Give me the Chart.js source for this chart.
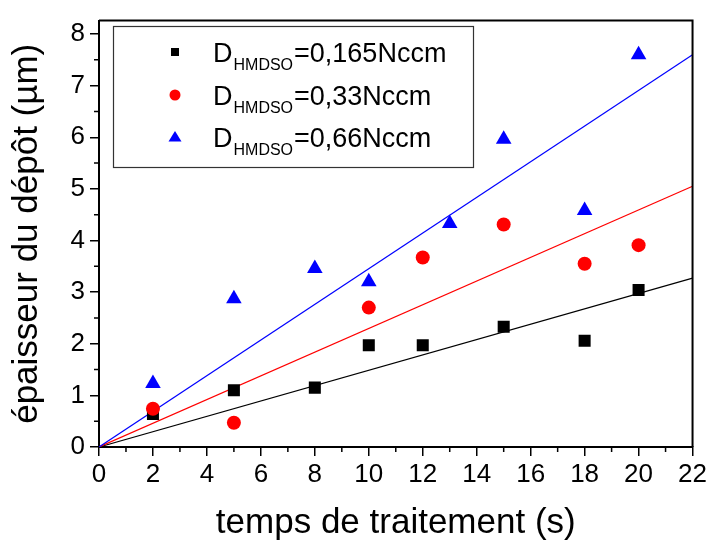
<!DOCTYPE html>
<html>
<head>
<meta charset="utf-8">
<script src="https://cdn.jsdelivr.net/npm/chart.js@4.4.1/dist/chart.umd.min.js"></script>
<style>
  html, body { margin: 0; padding: 0; background: #fff; }
  #wrap { width: 710px; height: 546px; }
</style>
</head>
<body>
<div id="wrap"><canvas id="depot-chart"></canvas></div>
<script>
// values
const timeBlack = [2, 5, 8, 10, 12, 15, 18, 20];
const depotBlack = [0.64, 1.10, 1.15, 1.97, 1.97, 2.33, 2.06, 3.04];
const timeRed = [2, 5, 10, 12, 15, 18, 20];
const depotRed = [0.74, 0.47, 2.70, 3.67, 4.31, 3.55, 3.91];
const timeBlue = [2, 5, 8, 10, 13, 15, 18, 20];
const depotBlue = [1.23, 2.87, 3.46, 3.20, 4.33, 5.96, 4.58, 7.60];

// linear fits through origin, end points at t = 22
const fitTime = [0, 22];
const fitBlack = [0, 3.27];
const fitRed = [0, 5.05];
const fitBlue = [0, 7.60];

const seriesLabels = ["=0,165Nccm", "=0,33Nccm", "=0,66Nccm"];
const xTickValues = [0, 2, 4, 6, 8, 10, 12, 14, 16, 18, 20, 22];
const yTickValues = [0, 1, 2, 3, 4, 5, 6, 7, 8];

const SANS = "'Liberation Sans', Arial, sans-serif";

const toPoints = (xs, ys) => xs.map((x, i) => ({ x: x, y: ys[i] }));

// minor ticks, box frame and the legend with subscripts
const frameAndLegend = {
  id: "frameAndLegend",
  afterDraw(chart) {
    const ctx = chart.ctx;
    const a = chart.chartArea;
    const xs = chart.scales.x;
    const ys = chart.scales.y;
    ctx.save();
    ctx.strokeStyle = "#000";
    ctx.lineWidth = 1.5;
    // minor ticks
    ctx.beginPath();
    for (let v = 1; v < 22; v += 2) {
      const px = xs.getPixelForValue(v);
      ctx.moveTo(px, a.bottom);
      ctx.lineTo(px, a.bottom + 5);
    }
    for (let v = 0.5; v < 8.2; v += 1) {
      const py = ys.getPixelForValue(v);
      ctx.moveTo(a.left, py);
      ctx.lineTo(a.left - 5, py);
    }
    ctx.stroke();
    // top and right sides
    ctx.lineWidth = 2;
    ctx.beginPath();
    ctx.moveTo(a.left, a.top);
    ctx.lineTo(a.right, a.top);
    ctx.lineTo(a.right, a.bottom);
    ctx.stroke();

    // legend
    ctx.lineWidth = 1.2;
    ctx.strokeStyle = "#333";
    ctx.strokeRect(113.5, 26.5, 360, 141);
    const rowsY = [52, 95, 137];
    const colors = ["#000000", "#ff0000", "#0000ff"];
    rowsY.forEach((cy, i) => {
      ctx.fillStyle = colors[i];
      ctx.beginPath();
      if (i === 0) {
        ctx.rect(171, cy - 4, 8, 8);
      } else if (i === 1) {
        ctx.arc(175, cy, 5.5, 0, Math.PI * 2);
      } else {
        ctx.moveTo(175, cy - 6);
        ctx.lineTo(181.5, cy + 4.5);
        ctx.lineTo(168.5, cy + 4.5);
        ctx.closePath();
      }
      ctx.fill();

      const base = cy + 10;
      ctx.fillStyle = "#000";
      ctx.textBaseline = "alphabetic";
      ctx.textAlign = "left";
      ctx.font = "27px " + SANS;
      ctx.fillText("D", 213, base);
      let x = 213 + ctx.measureText("D").width + 1;
      ctx.font = "16px " + SANS;
      ctx.fillText("HMDSO", x, base + 8);
      x += ctx.measureText("HMDSO").width + 1;
      ctx.font = "27px " + SANS;
      ctx.fillText(seriesLabels[i], x, base);
    });
    ctx.restore();
  }
};

const ctx = document.getElementById("depot-chart").getContext("2d");
const chart = new Chart(ctx, {
  type: "scatter",
  data: {
    datasets: [
      {
        label: seriesLabels[0],
        data: toPoints(timeBlack, depotBlack),
        pointStyle: "rect",
        pointRadius: 8.5,
        backgroundColor: "#000000",
        borderWidth: 0,
        order: 3
      },
      {
        label: seriesLabels[1],
        data: toPoints(timeRed, depotRed),
        pointStyle: "circle",
        pointRadius: 7,
        backgroundColor: "#ff0000",
        borderWidth: 0,
        order: 2
      },
      {
        label: seriesLabels[2],
        data: toPoints(timeBlue, depotBlue),
        pointStyle: "triangle",
        pointRadius: 9,
        backgroundColor: "#0000ff",
        borderWidth: 0,
        order: 1
      },
      {
        type: "line",
        data: toPoints(fitTime, fitBlack),
        borderColor: "#000000",
        borderWidth: 1.2,
        pointRadius: 0,
        order: 6
      },
      {
        type: "line",
        data: toPoints(fitTime, fitRed),
        borderColor: "#ff0000",
        borderWidth: 1.2,
        pointRadius: 0,
        order: 5
      },
      {
        type: "line",
        data: toPoints(fitTime, fitBlue),
        borderColor: "#0000ff",
        borderWidth: 1.2,
        pointRadius: 0,
        order: 4
      }
    ]
  },
  options: {
    responsive: true,
    maintainAspectRatio: false,
    animation: false,
    layout: {
      autoPadding: false,
      padding: { top: 10, right: 17, left: 0, bottom: 0 }
    },
    plugins: {
      legend: { display: false },
      tooltip: { enabled: false }
    },
    scales: {
      x: {
        type: "linear",
        min: 0,
        max: 22,
        afterBuildTicks: (scale) => {
          scale.ticks = xTickValues.map((v) => ({ value: v }));
        },
        afterFit: (scale) => {
          scale.height = 99;
        },
        grid: {
          drawOnChartArea: false,
          drawTicks: true,
          tickLength: 9,
          color: "#000",
          lineWidth: 1.5
        },
        border: { display: true, color: "#000", width: 2 },
        ticks: {
          color: "#000",
          padding: 3,
          font: { family: SANS, size: 26 }
        },
        title: {
          display: true,
          text: "temps de traitement (s)",
          color: "#000",
          font: { family: SANS, size: 35 },
          padding: { top: 0, bottom: 2 }
        }
      },
      y: {
        type: "linear",
        min: 0,
        max: 8.26,
        bounds: "data",
        afterBuildTicks: (scale) => {
          scale.ticks = yTickValues.map((v) => ({ value: v }));
        },
        afterFit: (scale) => {
          scale.width = 99;
        },
        grid: {
          drawOnChartArea: false,
          drawTicks: true,
          tickLength: 9,
          color: "#000",
          lineWidth: 1.5
        },
        border: { display: true, color: "#000", width: 2 },
        ticks: {
          color: "#000",
          padding: 5,
          font: { family: SANS, size: 26 }
        },
        title: {
          display: true,
          text: "épaisseur du dépôt (µm)",
          color: "#000",
          font: { family: SANS, size: 35 },
          padding: { top: 6, bottom: 0 }
        }
      }
    }
  },
  plugins: [frameAndLegend]
});
</script>
</body>
</html>
